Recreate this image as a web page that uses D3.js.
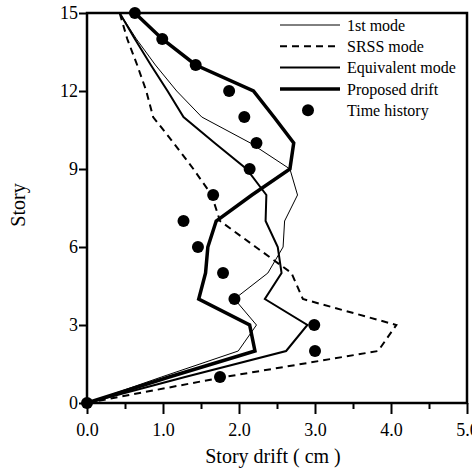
<!DOCTYPE html>
<html>
<head>
<meta charset="utf-8">
<script src="https://cdn.jsdelivr.net/npm/d3@7"></script>
<style>
    body { margin: 0; background: #fff; }
    svg text { font-family: "Liberation Serif", "Times New Roman", serif; fill: #000; }
</style>
</head>
<body>
<div id="d3plot"></div>
<script>
// Data
// ==================================================================
const stories = [0, 1, 2, 3, 4, 5, 6, 7, 8, 9, 10, 11, 12, 13, 14, 15];
const firstMode = [0, 0.98, 1.99, 2.23, 1.94, 2.38, 2.58, 2.60, 2.77, 2.67, 2.15, 1.51, 1.18, 0.90, 0.65, 0.43];
const srssMode = [0, 1.81, 3.83, 4.07, 2.84, 2.69, 2.22, 1.75, 1.64, 1.40, 1.14, 0.87, 0.78, 0.66, 0.53, 0.43];
const equivMode = [0, 1.29, 2.62, 2.90, 2.34, 2.56, 2.51, 2.35, 2.36, 2.10, 1.68, 1.27, 1.06, 0.84, 0.63, 0.43];
const proposed = [0, 1.08, 2.21, 2.14, 1.47, 1.56, 1.59, 1.70, 2.17, 2.67, 2.72, 2.46, 2.19, 1.43, 0.99, 0.63];
const timeHistory = [0, 1.75, 3.00, 2.99, 1.94, 1.79, 1.46, 1.27, 1.66, 2.14, 2.23, 2.07, 1.87, 1.43, 0.99, 0.63];

const xTicks = [0, 1, 2, 3, 4, 5];
const xMinor = [0.5, 1.5, 2.5, 3.5, 4.5];
const yTicks = [0, 3, 6, 9, 12, 15];

const legendItems = ["1st mode", "SRSS mode", "Equivalent mode", "Proposed drift", "Time history"];

// Layout
// ==================================================================
const W = 472, H = 473,
    margin = {top: 13, right: 5, bottom: 70, left: 87},
    width = 380,
    height = 390;

const xScale = d3.scaleLinear().domain([0, 5]).range([0, width]);
const yScale = d3.scaleLinear().domain([0, 15]).range([height, 0]);

const svg = d3.select("#d3plot")
    .append("svg")
        .attr("width", W)
        .attr("height", H)
    .append("g")
        .attr("transform", "translate(" + margin.left + "," + margin.top + ")");

// Axes
// ==================================================================
const xAxis = svg.append("g")
    .attr("transform", "translate(0," + height + ")")
    .call(d3.axisBottom(xScale).tickValues(xTicks).tickSize(11).tickFormat(d3.format(".1f")));
xAxis.selectAll("text").attr("y", 20).attr("font-size", "18px");

const xMinorAxis = svg.append("g")
    .attr("transform", "translate(0," + height + ")")
    .call(d3.axisBottom(xScale).tickValues(xMinor).tickSize(6).tickFormat(""));

const yAxis = svg.append("g")
    .call(d3.axisLeft(yScale).tickValues(yTicks).tickSize(8).tickFormat(d3.format("d")));
yAxis.selectAll("text").attr("x", -9).attr("font-size", "18px");

svg.selectAll(".domain").remove();
svg.selectAll(".tick line").attr("stroke", "#000").attr("stroke-width", 2);

// Frame
svg.append("rect")
    .attr("x", 0)
    .attr("y", 0)
    .attr("width", width)
    .attr("height", height)
    .attr("fill", "none")
    .attr("stroke", "#000")
    .attr("stroke-width", 2.5);

// Axis titles
svg.append("text")
    .attr("x", 186)
    .attr("y", height + 60)
    .attr("text-anchor", "middle")
    .attr("font-size", "20px")
    .text("Story drift ( cm )");

svg.append("text")
    .attr("transform", "translate(-62," + (height / 2 - 3) + ") rotate(-90)")
    .attr("text-anchor", "middle")
    .attr("font-size", "20px")
    .text("Story");

// Lines
// ==================================================================
const styles = [
    {values: firstMode, width: 1, dash: null},
    {values: srssMode, width: 2, dash: "7,5"},
    {values: equivMode, width: 2, dash: null},
    {values: proposed, width: 3.5, dash: null}
];

const line = d3.line()
    .x(function(d) { return xScale(d[0]); })
    .y(function(d) { return yScale(d[1]); });

styles.forEach(function(s) {
    svg.append("path")
        .datum(s.values.map(function(v, i) { return [v, stories[i]]; }))
        .attr("fill", "none")
        .attr("stroke", "#000")
        .attr("stroke-width", s.width)
        .attr("stroke-linejoin", "miter")
        .attr("stroke-dasharray", s.dash)
        .attr("d", line);
});

svg.selectAll("circle.th")
    .data(timeHistory)
    .enter()
    .append("circle")
        .attr("class", "th")
        .attr("cx", function(d) { return xScale(d); })
        .attr("cy", function(d, i) { return yScale(stories[i]); })
        .attr("r", 6)
        .attr("fill", "#000");

// Legend
// ==================================================================
const legend = svg.append("g").attr("transform", "translate(193, 12)");

legendItems.forEach(function(name, i) {
    const y = i * 21.3;
    if (i < 4) {
        legend.append("line")
            .attr("x1", 0)
            .attr("x2", 60)
            .attr("y1", y)
            .attr("y2", y)
            .attr("stroke", "#000")
            .attr("stroke-width", styles[i].width)
            .attr("stroke-dasharray", styles[i].dash);
    } else {
        legend.append("circle")
            .attr("cx", 28)
            .attr("cy", y)
            .attr("r", 6)
            .attr("fill", "#000");
    }
    legend.append("text")
        .attr("x", 67)
        .attr("y", y)
        .attr("dy", "0.35em")
        .attr("font-size", "16px")
        .text(name);
});
</script>
</body>
</html>
